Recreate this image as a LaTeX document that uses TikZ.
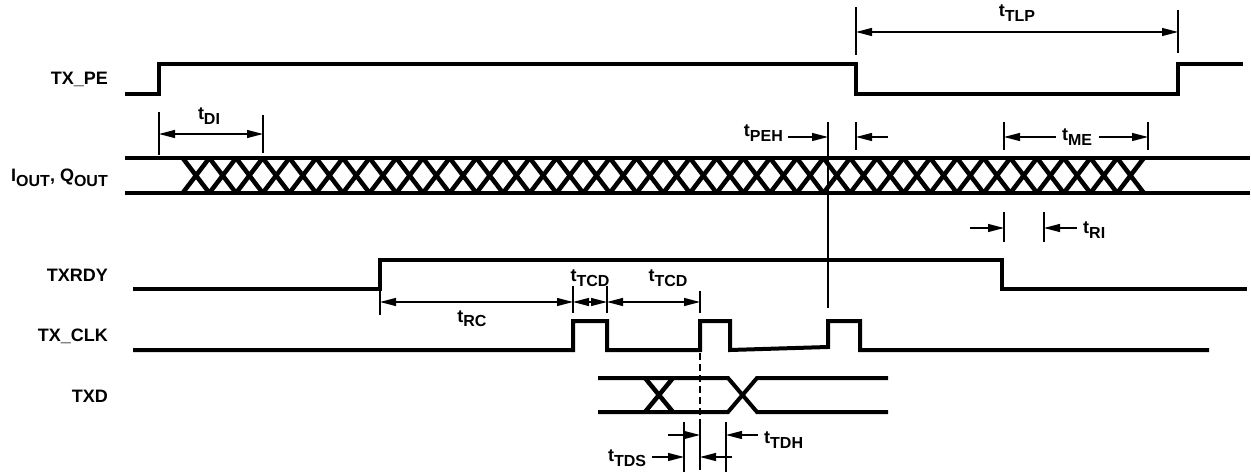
\documentclass[tikz,border=0pt]{standalone}
\usepackage{fontspec}
\setmainfont{Liberation Sans}
\usetikzlibrary{arrows.meta}
\tikzset{
  tri/.tip={Triangle[length=16pt,width=8pt]},
  sig/.style={line width=4pt,line join=miter},
  xs/.style={line width=4.5pt},
  ext/.style={line width=1.2pt},
  dim/.style={ext,tri-tri},
  pt/.style={ext,-tri},
  sname/.style={font=\bfseries\fontsize{18}{18}\selectfont,anchor=east,inner sep=0pt},
  tname/.style={font=\bfseries\fontsize{18}{18}\selectfont,inner sep=0pt,anchor=base}
}
\newcommand{\sub}[1]{\raisebox{-5pt}{\fontsize{16}{16}\selectfont #1}}
\newcommand{\tm}[1]{t\sub{#1}}

\begin{document}
\begin{tikzpicture}[x=1pt,y=-1pt]
  \useasboundingbox (0,0) rectangle (1251,473);
  % signal names
  \node[sname] (txpe) at (108,79) {TX\_PE};
  \node[sname] (iq) at (108,178) {I\sub{OUT}, Q\sub{OUT}};
  \node[sname] (txrdy) at (108,275) {TXRDY};
  \node[sname] (txclk) at (108,336) {TX\_CLK};
  \node[sname] (txd) at (108,396) {TXD};
  % waveforms
  \draw[sig] (125,94) -- (159,94) -- (159,64) -- (856,64) -- (856,94) -- (1178,94) -- (1178,64) -- (1243,64);
  \draw[sig] (125,158) -- (1250,158) (125,193) -- (1250,193);
  \foreach \k in {0,...,35}
    \draw[xs] ({182.65+26.7*\k},193) -- ({209.35+26.7*\k},158) ({182.65+26.7*\k},158) -- ({209.35+26.7*\k},193);
  \draw[sig] (133,289) -- (380,289) -- (380,260) -- (1002,260) -- (1002,289) -- (1247,289);
  \draw[sig] (133,350) -- (573,350) -- (573,321) -- (607,321) -- (607,350) -- (700,350) -- (700,321)
    -- (730,321) -- (730,350) -- (828,347) -- (828,321) -- (860,321) -- (860,350) -- (1209,350);
  \draw[sig] (598,378) -- (728,378) -- (757,412) -- (888,412) (598,412) -- (728,412) -- (757,378) -- (888,378);
  \draw[xs] (645,378) -- (673,412) (645,412) -- (673,378);
  % t_DI
  \draw[ext] (159,112) -- (159,155) (263,115) -- (263,153);
  \draw[dim] (159,134) -- (263,134);
  \node[tname] (tdi) at (209,120) {\tm{DI}};
  % t_TLP
  \draw[ext] (856,7) -- (856,55) (1178,10) -- (1178,53);
  \draw[dim] (856,32) -- (1178,32);
  \node[tname] (ttlp) at (1017,17) {\tm{TLP}};
  % t_PEH
  \draw[ext] (828,122) -- (828,308) (856,122) -- (856,150);
  \node[tname,anchor=base east] (tpeh) at (783,137) {\tm{PEH}};
  \draw[pt] (788,137) -- (828,137);
  \draw[pt] (888,137) -- (856,137);
  % t_ME
  \draw[ext] (1004,122) -- (1004,150) (1148,122) -- (1148,150);
  \node[tname] (tme) at (1077,141) {\tm{ME}};
  \draw[pt] (1056,137) -- (1004,137);
  \draw[pt] (1099,137) -- (1148,137);
  % t_RI
  \draw[ext] (1004,212) -- (1004,242) (1044,212) -- (1044,242);
  \draw[pt] (970,228) -- (1004,228);
  \draw[pt] (1077,228) -- (1044,228);
  \node[tname,anchor=base west] (tri) at (1083,234) {\tm{RI}};
  % t_RC, t_TCD
  \draw[ext] (380,290) -- (380,315) (573,286) -- (573,313) (607,286) -- (607,313) (700,291) -- (700,313);
  \draw[dim] (380,302) -- (573,302);
  \draw[dim] (573,302) -- (607,302);
  \draw[dim] (607,302) -- (700,302);
  \node[tname] (trc) at (472,322) {\tm{RC}};
  \node[tname] (ttcda) at (590,282) {\tm{TCD}};
  \node[tname] (ttcdb) at (668,282) {\tm{TCD}};
  % t_TDS, t_TDH
  \draw[ext,dash pattern=on 7pt off 4pt] (700,353) -- (700,420);
  \draw[ext] (700,420) -- (700,470) (684,422) -- (684,472) (726,422) -- (726,472);
  \draw[pt] (668,435) -- (700,435);
  \draw[pt] (758,435) -- (726,435);
  \node[tname,anchor=base west] (ttdh) at (764,443) {\tm{TDH}};
  \node[tname] (ttds) at (627,461) {\tm{TDS}};
  \draw[pt] (652,457) -- (684,457);
  \draw[pt] (732,457) -- (700,457);
\end{tikzpicture}
\end{document}
